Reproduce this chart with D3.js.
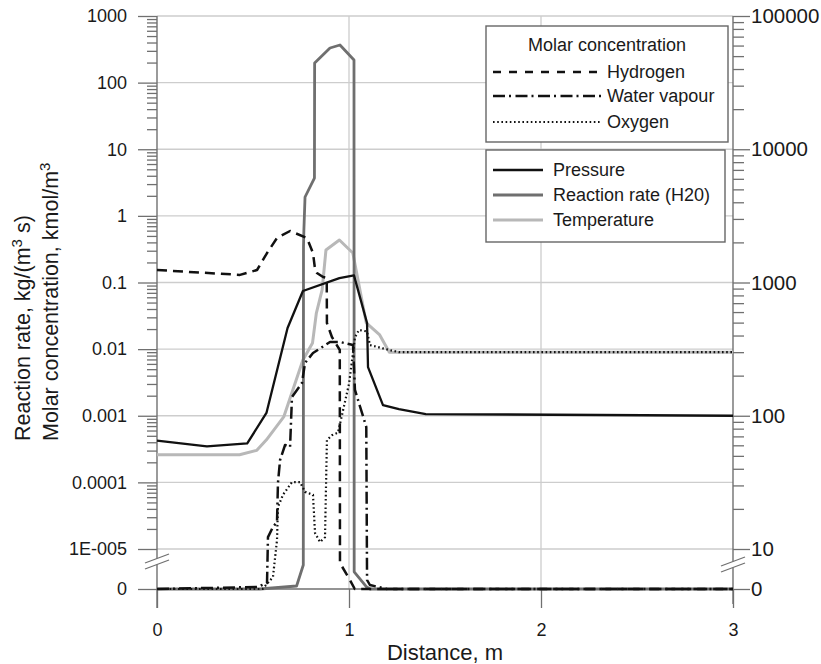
<!DOCTYPE html>
<html>
<head>
<meta charset="utf-8">
<script src="https://cdn.jsdelivr.net/npm/d3@7"></script>
<style>
  body { margin: 0; background: #fff; }
  text { font-family: "Liberation Sans", Arial, sans-serif; fill: #1a1a1a; }
</style>
</head>
<body>
<svg id="chart" width="821" height="664"></svg>
<script>
// ---- tick values and labels ----
const leftTicks = [1000, 100, 10, 1, 0.1, 0.01, 0.001, 0.0001, 1e-5];
const leftTickLabels = ["1000", "100", "10", "1", "0.1", "0.01", "0.001", "0.0001", "1E-005"];
const rightTicks = [100000, 10000, 1000, 100, 10];
const rightTickLabels = ["100000", "10000", "1000", "100", "10"];
const zeroTickLabel = "0";
const xTicks = [0, 1, 2, 3];

// ---- series (distance in m) ----
// left axis: molar concentration, kmol/m3 and reaction rate, kg/(m3 s)
const hydrogenX = [0, 0.432, 0.521, 0.573, 0.625, 0.693, 0.781, 0.8125, 0.823, 0.833, 0.865, 0.884, 0.885, 0.911, 0.952, 0.953, 1.005, 1.03, 3];
const hydrogenY = [0.154, 0.130, 0.154, 0.277, 0.466, 0.593, 0.466, 0.277, 0.16, 0.139, 0.121, 0.117, 0.0247, 0.0152, 0.0097, 6.5e-6, 2.25e-6, 0, 0];

const waterX = [0, 0.521, 0.573, 0.578, 0.604, 0.625, 0.630, 0.641, 0.667, 0.693, 0.703, 0.755, 0.771, 0.8125, 0.901, 0.953, 1.021, 1.031, 1.09, 1.094, 1.109, 1.198, 3];
const waterY = [0, 5e-7, 1.5e-6, 1.51e-5, 2.14e-5, 2.54e-5, 9.8e-5, 2.17e-4, 3.64e-4, 3.4e-4, 1.91e-3, 3.1e-3, 6.2e-3, 8.75e-3, 0.0128, 0.0128, 0.0115, 2.44e-3, 6.8e-4, 2.25e-6, 1e-6, 0, 0];

const oxygenX = [0, 0.55, 0.604, 0.625, 0.630, 0.656, 0.703, 0.745, 0.771, 0.8125, 0.823, 0.849, 0.875, 0.885, 0.911, 0.943, 1.0, 1.031, 1.052, 1.094, 1.109, 1.21, 1.26, 3];
const oxygenY = [0, 0, 3e-6, 1.36e-5, 4.27e-5, 6.5e-5, 1.01e-4, 1.01e-4, 7.2e-5, 6.5e-5, 1.74e-5, 1.27e-5, 1.5e-5, 4.3e-4, 5.1e-4, 5.6e-4, 3e-3, 0.015, 0.0194, 0.0184, 0.0115, 0.0097, 0.009, 0.009];

const reactionX = [0, 0.536, 0.727, 0.762, 0.763, 0.765, 0.771, 0.82, 0.821, 0.901, 0.953, 1.026, 1.027, 1.09, 1.11, 3];
const reactionY = [0, 0, 7.5e-7, 6e-6, 0.34, 0.61, 1.92, 3.7, 197, 331, 367, 219, 4.3e-6, 5.8e-7, 0, 0];

// right axis: pressure, kPa and temperature, K
const pressureX = [0, 0.26, 0.47, 0.57, 0.68, 0.76, 0.95, 1.026, 1.094, 1.099, 1.177, 1.26, 1.4, 3];
const pressureY = [65, 59, 62, 105, 456, 863, 1080, 1130, 497, 232, 120, 112, 103, 100];

const temperatureX = [0, 0.43, 0.52, 0.57, 0.66, 0.76, 0.81, 0.83, 0.86, 0.88, 0.95, 1.02, 1.09, 1.16, 1.21, 3];
const temperatureY = [51, 51, 55, 66, 98, 262, 352, 590, 879, 1754, 2084, 1664, 497, 404, 300, 300];

// ---- layout ----
const X0 = 157, X1 = 733, YTOP = 16, YLOG = 549, YZERO = 589, TICKBOT = 608;
const axisColor = "#707070", gridColor = "#cdcdcd";

const svg = d3.select("#chart");
svg.append("rect").attr("width", 821).attr("height", 664).attr("fill", "#fff");

const x = d3.scaleLinear().domain([0, 3]).range([X0, X1]);
// left: log part above the break, linear part between the break and zero
const yLogL = d3.scaleLog().domain([1e-5, 1000]).range([YLOG, YTOP]);
const yLinL = d3.scaleLinear().domain([0, 1e-5]).range([YZERO, YLOG]);
const yL = v => v >= 1e-5 ? yLogL(v) : yLinL(v);
// right axis
const yLogR = d3.scaleLog().domain([10, 100000]).range([YLOG, YTOP]);
const yLinR = d3.scaleLinear().domain([0, 10]).range([YZERO, YLOG]);
const yR = v => v >= 10 ? yLogR(v) : yLinR(v);

// ---- gridlines ----
const grid = svg.append("g").attr("stroke", gridColor).attr("stroke-width", 1.3);
leftTicks.forEach(t => grid.append("line").attr("x1", X0).attr("x2", X1).attr("y1", yLogL(t)).attr("y2", yLogL(t)));
[1, 2].forEach(t => grid.append("line").attr("x1", x(t)).attr("x2", x(t)).attr("y1", YTOP).attr("y2", YZERO));

// ---- axes ----
function styleAxis(size) {
  return g => {
    g.select(".domain").remove();
    g.selectAll("line").attr("stroke", axisColor).attr("stroke-width", 1.3);
    g.selectAll("text").attr("font-size", size).attr("fill", "#1a1a1a")
      .attr("font-family", '"Liberation Sans", Arial, sans-serif');
  };
}
function minorValues(lo, hi) {
  const out = [];
  for (let d = lo; d < hi * 0.999; d *= 10) for (let k = 2; k <= 9; k++) out.push(k * d);
  return out;
}

// left
svg.append("g").attr("transform", `translate(${X0},0)`)
  .call(d3.axisLeft(yLogL).tickValues(leftTicks).tickSize(19).tickPadding(11)
    .tickFormat((d, i) => leftTickLabels[i]))
  .call(styleAxis(18));
svg.append("g").attr("transform", `translate(${X0},0)`)
  .call(d3.axisLeft(yLogL).tickValues(minorValues(1e-5, 1000)).tickSize(10).tickFormat(""))
  .call(styleAxis(18));
svg.append("g").attr("transform", `translate(${X0},0)`)
  .call(d3.axisLeft(yLinL).tickValues([0]).tickSize(19).tickPadding(11).tickFormat(() => zeroTickLabel))
  .call(styleAxis(18));

// right
svg.append("g").attr("transform", `translate(${X1},0)`)
  .call(d3.axisRight(yLogR).tickValues(rightTicks).tickSize(17).tickPadding(1)
    .tickFormat((d, i) => rightTickLabels[i]))
  .call(styleAxis(20.5));
svg.append("g").attr("transform", `translate(${X1},0)`)
  .call(d3.axisRight(yLogR).tickValues(minorValues(10, 100000)).tickSize(11).tickFormat(""))
  .call(styleAxis(20.5));
svg.append("g").attr("transform", `translate(${X1},0)`)
  .call(d3.axisRight(yLinR).tickValues([0]).tickSize(17).tickPadding(1).tickFormat(() => zeroTickLabel))
  .call(styleAxis(20.5));

// bottom
svg.append("g").attr("transform", `translate(0,${YZERO})`)
  .call(d3.axisBottom(x).tickValues(xTicks).tickSize(19).tickPadding(15).tickFormat(d3.format("d")))
  .call(styleAxis(18));

// axis lines
const axl = svg.append("g").attr("stroke", axisColor).attr("stroke-width", 1.4);
axl.append("line").attr("x1", X0).attr("x2", X0).attr("y1", YTOP).attr("y2", TICKBOT);
axl.append("line").attr("x1", X1).attr("x2", X1).attr("y1", YTOP).attr("y2", TICKBOT - 4);
axl.append("line").attr("x1", X0).attr("x2", X1).attr("y1", YZERO).attr("y2", YZERO);

// ---- series ----
function pts(xs, ys) { return xs.map((d, i) => [d, ys[i]]); }
const lineL = d3.line().x(d => x(d[0])).y(d => yL(d[1]));
const lineR = d3.line().x(d => x(d[0])).y(d => yR(d[1]));

const series = [
  { data: pts(temperatureX, temperatureY), gen: lineR, stroke: "#b8b8b8", w: 3, dash: null },
  { data: pts(reactionX, reactionY), gen: lineL, stroke: "#6f6f6f", w: 2.8, dash: null },
  { data: pts(pressureX, pressureY), gen: lineR, stroke: "#111", w: 2.3, dash: null },
  { data: pts(hydrogenX, hydrogenY), gen: lineL, stroke: "#111", w: 2.5, dash: "10,6" },
  { data: pts(waterX, waterY), gen: lineL, stroke: "#111", w: 2.5, dash: "12,4,2,4" },
  { data: pts(oxygenX, oxygenY), gen: lineL, stroke: "#111", w: 2.2, dash: "1.6,2.6" }
];
const plot = svg.append("g");
series.forEach(s => {
  plot.append("path").attr("d", s.gen(s.data)).attr("fill", "none")
    .attr("stroke", s.stroke).attr("stroke-width", s.w)
    .attr("stroke-dasharray", s.dash).attr("stroke-linejoin", "round");
});

// ---- axis breaks ----
function axisBreak(cx, yA, yB) {
  const g = svg.append("g");
  g.append("polygon")
    .attr("points", `${cx - 12},${yA + 5} ${cx + 12},${yA - 4} ${cx + 12},${yB - 4} ${cx - 12},${yB + 5}`)
    .attr("fill", "#fff");
  [yA, yB].forEach(y => g.append("line")
    .attr("x1", cx - 12).attr("y1", y + 5).attr("x2", cx + 12).attr("y2", y - 4)
    .attr("stroke", axisColor).attr("stroke-width", 1.3));
}
axisBreak(X0, 558, 564);
axisBreak(X1, 561, 567);

// ---- axis titles ----
svg.append("text").attr("x", (X0 + X1) / 2).attr("y", 660).attr("text-anchor", "middle")
  .attr("font-size", 22).text("Distance, m");

const t1 = svg.append("text").attr("transform", "translate(30,441) rotate(-90)").attr("font-size", 21.5);
t1.append("tspan").text("Reaction rate, kg/(m");
t1.append("tspan").attr("baseline-shift", "super").attr("font-size", 15).text("3");
t1.append("tspan").text(" s)");
const t2 = svg.append("text").attr("transform", "translate(58,441) rotate(-90)").attr("font-size", 21.5);
t2.append("tspan").text("Molar concentration, kmol/m");
t2.append("tspan").attr("baseline-shift", "super").attr("font-size", 15).text("3");

// ---- legends ----
const legendFont = 18;
const lg1 = svg.append("g");
lg1.append("rect").attr("x", 486).attr("y", 26).attr("width", 242).attr("height", 116)
  .attr("fill", "#fff").attr("stroke", "#666").attr("stroke-width", 1.4);
lg1.append("text").attr("x", 607).attr("y", 51).attr("text-anchor", "middle")
  .attr("font-size", legendFont).text("Molar concentration");
const molarItems = [
  { name: "Hydrogen", dash: "8,8", w: 2.5, y: 72 },
  { name: "Water vapour", dash: "12,4,2,4.5", w: 2.5, y: 96 },
  { name: "Oxygen", dash: "1.6,2.6", w: 2.2, y: 122 }
];
molarItems.forEach(it => {
  lg1.append("line").attr("x1", 493).attr("x2", 602).attr("y1", it.y).attr("y2", it.y)
    .attr("stroke", "#111").attr("stroke-width", it.w).attr("stroke-dasharray", it.dash);
  lg1.append("text").attr("x", 607).attr("y", it.y + 6).attr("font-size", legendFont).text(it.name);
});

const lg2 = svg.append("g");
lg2.append("rect").attr("x", 486).attr("y", 150).attr("width", 239).attr("height", 92)
  .attr("fill", "#fff").attr("stroke", "#666").attr("stroke-width", 1.4);
const otherItems = [
  { name: "Pressure", stroke: "#111", w: 2.6, y: 170 },
  { name: "Reaction rate (H20)", stroke: "#6f6f6f", w: 3, y: 195 },
  { name: "Temperature", stroke: "#b8b8b8", w: 3, y: 220 }
];
otherItems.forEach(it => {
  lg2.append("line").attr("x1", 493).attr("x2", 543).attr("y1", it.y).attr("y2", it.y)
    .attr("stroke", it.stroke).attr("stroke-width", it.w);
  lg2.append("text").attr("x", 553).attr("y", it.y + 6).attr("font-size", legendFont).text(it.name);
});
</script>
</body>
</html>
